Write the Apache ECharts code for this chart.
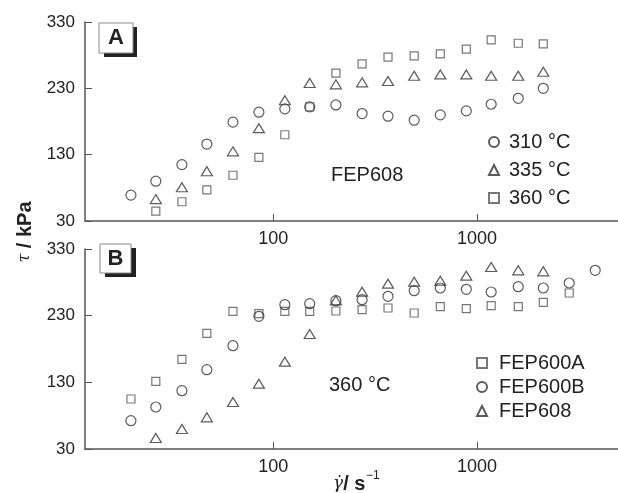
<!DOCTYPE html>
<html>
<head>
<meta charset="utf-8">
<script src="https://cdn.jsdelivr.net/npm/echarts@6/dist/echarts.min.js"></script>
<style>
html, body { margin: 0; padding: 0; background: #fff; }
#main { width: 618px; height: 493px; }
</style>
</head>
<body>
<div id="main"></div>
<script>
// shear rate, s^-1 (shared by both panels)
var rates = [20, 26.5, 35.6, 47.2, 63.4, 85, 114, 151, 203, 273, 366, 492, 661, 887, 1175, 1596, 2118, 2840, 3810];

// panel A : FEP608 at three temperatures
var a310 = [69, 90, 115, 146, 179, 194, 199, 202, 205, 192, 188, 182, 190, 196, 206, 215, 230];
var a335 = [null, 63, 81, 105, 135, 170, 212, 238, 236, 239, 241, 249, 251, 251, 249, 249, 255];
var a360 = [null, 45, 59, 77, 99, 126, 160, 202, 253, 267, 277, 279, 282, 289, 303, 298, 297];

// panel B : three resins at 360 C
var b600A = [105, 131.5, 164.5, 203.5, 236.5, 233, 236.5, 236.5, 237, 239, 241.5, 234, 243.5, 240.5, 245, 243.5, 250, 264];
var b600B = [72.5, 93, 117.5, 149, 185, 229, 246.5, 248, 252.5, 254, 259, 267.5, 271.5, 269.5, 265.5, 273.5, 271.5, 279, 298];
var b608 = [null, 46.5, 60, 77.5, 100.5, 128, 161, 202.5, 253, 266, 278, 281, 282.5, 290, 303, 298, 296.5];

var xTicks = [100, 1000];
var yTicks = [30, 130, 230, 330];

var FONT = 'Liberation Sans, Arial, sans-serif';
var INK = '#222';
var AXIS = '#555';

function pairs(vals) {
    var out = [];
    for (var i = 0; i < vals.length; i++) {
        if (vals[i] != null) out.push([rates[i], vals[i]]);
    }
    return out;
}

function sc(name, vals, sym, size, idx, stroke) {
    return {
        name: name,
        type: 'scatter',
        xAxisIndex: idx,
        yAxisIndex: idx,
        symbol: sym,
        symbolSize: size,
        itemStyle: {
            color: 'rgba(0,0,0,0)',
            borderColor: stroke,
            borderWidth: 1.2
        },
        emphasis: { disabled: true },
        data: pairs(vals)
    };
}

function xAx(idx) {
    return {
        type: 'log',
        logBase: 10,
        gridIndex: idx,
        min: 11.9,
        max: 4930,
        axisLine: { lineStyle: { color: AXIS, width: 1.5 } },
        axisTick: { inside: true, length: 7, customValues: xTicks, lineStyle: { color: AXIS } },
        axisLabel: {
            customValues: xTicks,
            fontSize: 18, color: INK, fontFamily: FONT, margin: 9,
            formatter: function (v) { return String(Math.round(v)); }
        },
        splitLine: { show: false },
        minorTick: { show: false }
    };
}

function yAx(idx) {
    return {
        type: 'value',
        gridIndex: idx,
        min: yTicks[0],
        max: yTicks[yTicks.length - 1],
        interval: 100,
        axisLine: { show: true, lineStyle: { color: AXIS, width: 1.5 } },
        axisTick: { show: true, inside: true, length: 7, lineStyle: { color: AXIS } },
        axisLabel: { fontSize: 17, color: INK, fontFamily: FONT, margin: 10 },
        splitLine: { show: false }
    };
}

var chart = echarts.init(document.getElementById('main'));
chart.setOption({
    animation: false,
    backgroundColor: '#fff',
    grid: [
        { left: 85, top: 22, right: 0, height: 199 },
        { left: 85, top: 249, right: 0, height: 200 }
    ],
    xAxis: [xAx(0), xAx(1)],
    yAxis: [yAx(0), yAx(1)],
    legend: [
        {
            data: ['310 °C', '335 °C', '360 °C'],
            orient: 'vertical',
            left: 483,
            top: 127,
            itemWidth: 10,
            itemHeight: 10,
            itemGap: 8,
            textStyle: { fontSize: 20, color: INK, fontFamily: FONT, padding: [0, 0, 0, 5] }
        },
        {
            data: ['FEP600A', 'FEP600B', 'FEP608'],
            orient: 'vertical',
            left: 471,
            top: 348,
            itemWidth: 10,
            itemHeight: 10,
            itemGap: 4,
            textStyle: { fontSize: 20, color: INK, fontFamily: FONT, padding: [0, 0, 0, 7] }
        }
    ],
    series: [
        sc('310 °C', a310, 'circle', 10, 0, '#333'),
        sc('335 °C', a335, 'triangle', [11, 9], 0, '#333'),
        sc('360 °C', a360, 'rect', 8, 0, '#555'),
        sc('FEP600A', b600A, 'rect', 8, 1, '#555'),
        sc('FEP600B', b600B, 'circle', 10, 1, '#333'),
        sc('FEP608', b608, 'triangle', [11, 9], 1, '#333')
    ],
    graphic: [
        // panel tags with drop shadow
        { type: 'rect', shape: { x: 104, y: 27, width: 33, height: 30 }, style: { fill: '#222' } },
        { type: 'rect', shape: { x: 99, y: 23, width: 34, height: 30 }, style: { fill: '#fff', stroke: '#888', lineWidth: 1 } },
        { type: 'text', x: 116, y: 38, style: { text: 'A', font: 'bold 22px ' + FONT, fill: INK, align: 'center', verticalAlign: 'middle' } },
        { type: 'rect', shape: { x: 105, y: 248, width: 31, height: 29 }, style: { fill: '#222' } },
        { type: 'rect', shape: { x: 100, y: 244, width: 31, height: 29 }, style: { fill: '#fff', stroke: '#888', lineWidth: 1 } },
        { type: 'text', x: 115.5, y: 258.5, style: { text: 'B', font: 'bold 22px ' + FONT, fill: INK, align: 'center', verticalAlign: 'middle' } },
        // in-plot notes
        { type: 'text', x: 331, y: 175, style: { text: 'FEP608', font: '20px ' + FONT, fill: INK, verticalAlign: 'middle' } },
        { type: 'text', x: 329, y: 385, style: { text: '360 °C', font: '20px ' + FONT, fill: INK, verticalAlign: 'middle' } },
        // axis titles
        {
            type: 'text', x: 25, y: 232, rotation: Math.PI / 2,
            style: {
                text: '{t|τ}{k| / kPa}',
                align: 'center', verticalAlign: 'middle', fill: INK,
                rich: {
                    t: { fontFamily: 'DejaVu Serif', fontStyle: 'italic', fontSize: 16, fill: INK },
                    k: { fontFamily: FONT, fontWeight: 'bold', fontSize: 20, fill: INK }
                }
            }
        },
        {
            type: 'text', x: 333, y: 484,
            style: {
                text: '{g|γ̇}{k|/ s}',
                verticalAlign: 'middle', fill: INK,
                rich: {
                    g: { fontFamily: 'DejaVu Serif', fontStyle: 'italic', fontSize: 17, fill: INK },
                    k: { fontFamily: FONT, fontWeight: 'bold', fontSize: 20, fill: INK }
                }
            }
        },
        { type: 'text', x: 366, y: 476, style: { text: '−1', font: '12px ' + FONT, fill: INK, verticalAlign: 'middle' } }
    ]
});
</script>
</body>
</html>
